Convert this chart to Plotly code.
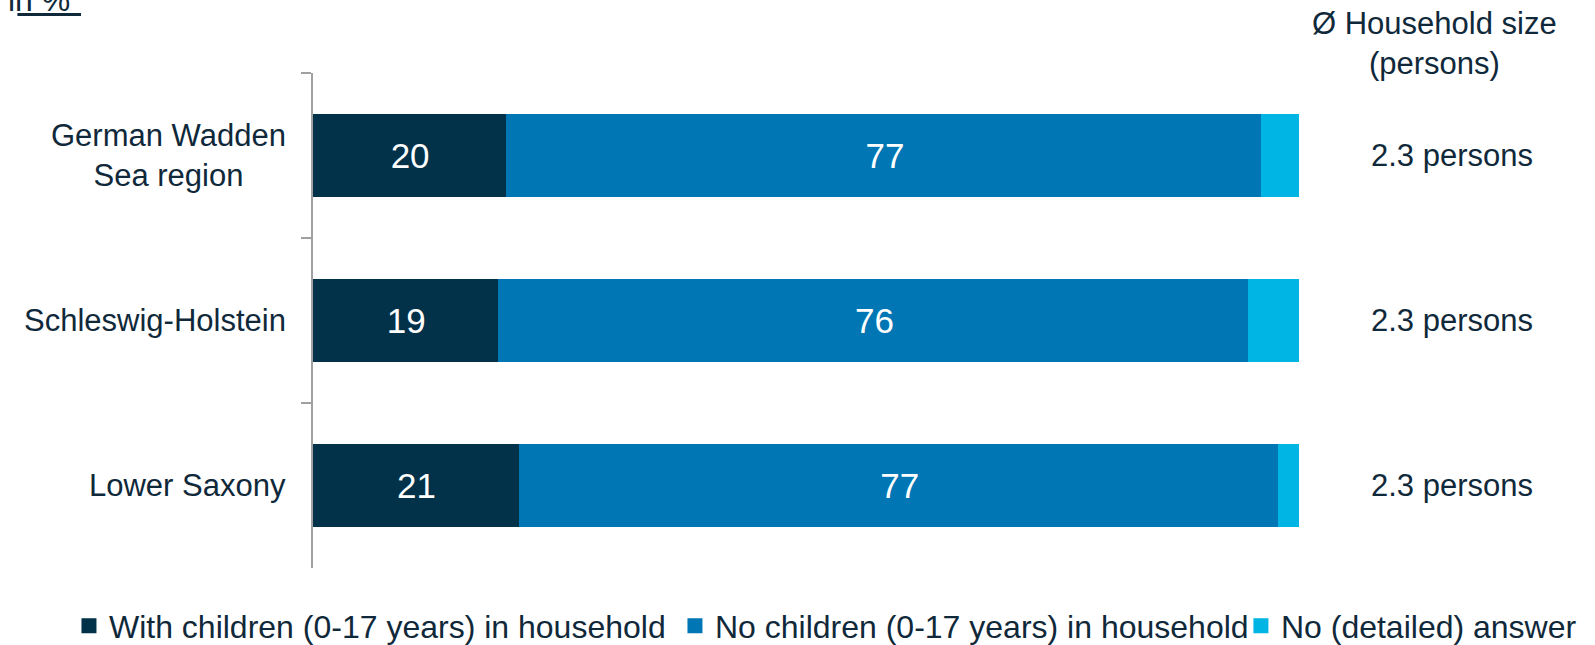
import plotly.graph_objects as go

# ---- data ----
regions = ["German Wadden<br>Sea region", "Schleswig-Holstein", "Lower Saxony"]
with_children = [19.7, 18.9, 21.0]
no_children = [76.6, 76.1, 77.0]
no_answer = [3.7, 5.0, 2.0]
with_children_labels = [20, 19, 21]
no_children_labels = [77, 76, 77]
household_size = [2.3, 2.3, 2.3]
series_names = [
    "With children (0-17 years) in household",
    "No children (0-17 years) in household",
    "No (detailed) answer",
]
colors = ["#02314A", "#0076B4", "#00B5E4"]

FONT = "Liberation Sans, Arial, sans-serif"
TXT = "#10293A"
MLW = 3

fig = go.Figure()
fig.add_trace(go.Bar(
    y=regions, x=with_children, orientation="h", name=series_names[0],
    marker=dict(color=colors[0], line=dict(width=MLW, color=colors[0])), legend="legend",
    text=[str(v) for v in with_children_labels], textposition="inside",
    insidetextanchor="middle", textangle=0,
    textfont=dict(color="white", size=35, family=FONT),
))
fig.add_trace(go.Bar(
    y=regions, x=no_children, orientation="h", name=series_names[1],
    marker=dict(color=colors[1], line=dict(width=MLW, color=colors[1])), legend="legend2",
    text=[str(v) for v in no_children_labels], textposition="inside",
    insidetextanchor="middle", textangle=0,
    textfont=dict(color="white", size=35, family=FONT),
))
fig.add_trace(go.Bar(
    y=regions, x=no_answer, orientation="h", name=series_names[2],
    marker=dict(color=colors[2], line=dict(width=MLW, color=colors[2])), legend="legend3",
    hoverinfo="x+name",
))

annotations = []
# category labels (centered multi-line, right of axis)
for r in regions:
    annotations.append(dict(
        x=0, xref="paper", y=r, yref="y", text=r, showarrow=False,
        xanchor="right", yanchor="middle", align="center", xshift=-25,
        font=dict(size=31, family=FONT, color=TXT),
    ))
# household size column
for r, hs in zip(regions, household_size):
    annotations.append(dict(
        x=1.155, xref="paper", y=r, yref="y", text=f"{hs} persons",
        showarrow=False, xanchor="center", yanchor="middle",
        font=dict(size=31, family=FONT, color=TXT),
    ))
annotations.append(dict(
    x=1.137, xref="paper", y=1.059, yref="paper",
    text="Ø Household size<br>(persons)", showarrow=False,
    xanchor="center", yanchor="middle", align="center",
    font=dict(size=31, family=FONT, color=TXT),
))
annotations.append(dict(
    x=-0.3109, xref="paper", y=1.107, yref="paper", text="in %", showarrow=False,
    xanchor="left", yanchor="bottom",
    font=dict(size=32, family=FONT, color=TXT),
))

legend_font = dict(size=32, family=FONT, color=TXT)
legend_common = dict(orientation="h", y=-0.117, yanchor="middle", xanchor="left",
                     font=legend_font, itemclick=False, itemdoubleclick=False,
                     bgcolor="rgba(0,0,0,0)")

fig.update_layout(
    width=1595, height=645,
    margin=dict(l=313, r=296, t=73, b=77, autoexpand=False),
    barmode="stack", bargap=0.521,
    plot_bgcolor="white", paper_bgcolor="white",
    font=dict(family=FONT, color=TXT, size=31),
    xaxis=dict(range=[0, 100], visible=False, fixedrange=True),
    yaxis=dict(
        autorange="reversed", type="category", showticklabels=False,
        showline=True, linecolor="#A0A0A0", linewidth=2,
        ticks="outside", tickson="boundaries", ticklen=10, tickcolor="#A0A0A0",
        tickwidth=2, showgrid=False, zeroline=False, fixedrange=True,
    ),
    legend=dict(x=-0.2475, **legend_common),
    legend2=dict(x=0.3671, **legend_common),
    legend3=dict(x=0.9411, **legend_common),
    showlegend=True,
    annotations=annotations,
    shapes=[dict(type="line", xref="paper", yref="paper",
                 x0=-0.2998, x1=-0.2353, y0=1.118, y1=1.118,
                 line=dict(color=TXT, width=3))],
)

fig.write_html(
    "out.html",
    config={"displayModeBar": False},
    post_script="document.body.style.margin='0';document.documentElement.style.overflow='hidden';",
)
